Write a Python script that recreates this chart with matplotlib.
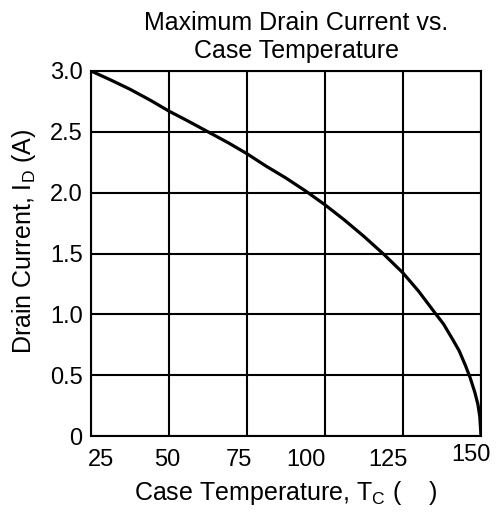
import matplotlib
matplotlib.use("Agg")
import matplotlib.pyplot as plt
import matplotlib.transforms as mtransforms

# values
temp_c = [25, 31, 37.5, 44, 50, 56, 62.5, 69, 75, 81, 87.5, 94, 100, 106, 112.5, 119, 125,
          130, 135, 138, 141, 143, 145, 146.5, 148, 149, 149.6, 150]
drain_a = [3.0, 2.93, 2.85, 2.76, 2.67, 2.59, 2.50, 2.41, 2.32, 2.22, 2.12, 2.01, 1.90,
           1.78, 1.64, 1.49, 1.34, 1.19, 1.02, 0.92, 0.79, 0.70, 0.58, 0.48, 0.36, 0.26, 0.16, 0.0]

x_ticks = [25, 50, 75, 100, 125, 150]
y_ticks = [0, 0.5, 1.0, 1.5, 2.0, 2.5, 3.0]
y_labels = ["0", "0.5", "1.0", "1.5", "2.0", "2.5", "3.0"]

# the scanned datasheet has its x tick labels slightly out of place (points)
x_label_shift = [(7, 0), (-1, 0), (-6, 0), (-14, 0), (-11, 0), (-7, 3)]

plt.rcParams['font.family'] = ['Liberation Sans', 'DejaVu Sans']

fig = plt.figure(figsize=(4.99, 5.13), dpi=100)
ax = fig.add_axes([0.1824, 0.150, 0.7816, 0.7116])

ax.plot(temp_c, drain_a, color='black', linewidth=2.3, solid_capstyle='butt')

ax.set_xlim(25, 150)
ax.set_ylim(0, 3.0)
ax.set_xticks(x_ticks)
ax.set_yticks(y_ticks)
ax.set_yticklabels(y_labels)
ax.tick_params(length=0, labelsize=17)
ax.tick_params(axis='x', pad=9)
ax.tick_params(axis='y', pad=6)

for lab, (dx, dy) in zip(ax.get_xticklabels(), x_label_shift):
    off = mtransforms.ScaledTranslation(dx / 72, dy / 72, fig.dpi_scale_trans)
    lab.set_transform(lab.get_transform() + off)

ax.grid(True, color='black', linewidth=1.5)
for s in ax.spines.values():
    s.set_linewidth(1.5)

ax.set_title("Maximum Drain Current vs.\nCase Temperature", fontsize=18, pad=9,
             linespacing=1.22, x=0.526)
ax.set_xlabel(r"Case Temperature, T$_\mathregular{C}$ (    )", fontsize=18, labelpad=6)
ax.set_ylabel(r"Drain Current, I$_\mathregular{D}$ (A)", fontsize=18)
ax.yaxis.set_label_coords(-0.135, 0.534)

fig.savefig("out.png", dpi=100)
